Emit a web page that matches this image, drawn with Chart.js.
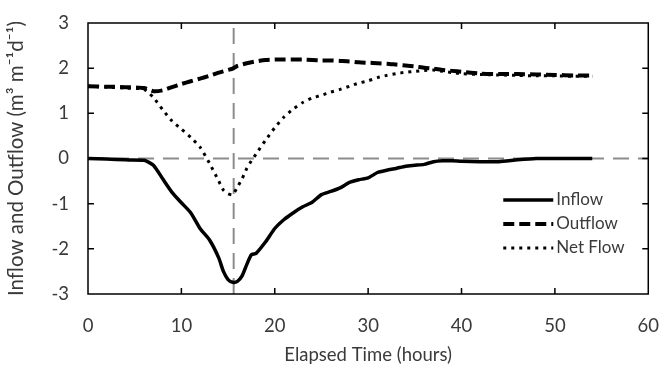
<!DOCTYPE html>
<html>
<head>
<meta charset="utf-8">
<script src="https://cdn.jsdelivr.net/npm/chart.js@4.4.1/dist/chart.umd.min.js"></script>
<style>
  html, body { margin: 0; padding: 0; background: #fff; }
  #wrap { width: 672px; height: 370px; position: relative; }
</style>
</head>
<body>
<div id="wrap"><canvas id="flow-chart"></canvas></div>
<script>
// Elapsed time (hours) shared by all three series
const hours = [0, 2, 4, 6, 7, 8, 9, 10, 11, 12, 13, 14, 14.5, 15, 15.5, 16, 16.5, 17, 17.5, 18,
    19, 20, 21, 22, 23, 24, 25, 26, 27, 28, 29, 30, 31, 32, 33, 34, 35, 36, 37, 38, 39, 40,
    42, 44, 46, 48, 50, 52, 54];

const inflow = [0, -0.01, -0.03, -0.04, -0.15, -0.45, -0.75, -0.98, -1.2, -1.55, -1.8, -2.2, -2.5, -2.68, -2.74, -2.72, -2.6, -2.35, -2.13, -2.1,
    -1.85, -1.55, -1.35, -1.2, -1.07, -0.97, -0.8, -0.73, -0.65, -0.53, -0.47, -0.43, -0.31, -0.26, -0.22, -0.17, -0.15, -0.13, -0.07, -0.05, -0.05, -0.06,
    -0.07, -0.07, -0.03, 0, 0, 0, 0];

const outflow = [1.6, 1.59, 1.58, 1.56, 1.49, 1.51, 1.58, 1.65, 1.71, 1.77, 1.83, 1.9, 1.93, 1.96, 1.99, 2.05, 2.08, 2.11, 2.13, 2.15,
    2.18, 2.19, 2.19, 2.19, 2.19, 2.18, 2.17, 2.17, 2.16, 2.15, 2.13, 2.12, 2.11, 2.1, 2.08, 2.06, 2.04, 2.01, 1.99, 1.96, 1.94, 1.92,
    1.88, 1.87, 1.87, 1.86, 1.85, 1.84, 1.84];

const netFlow = [1.6, 1.58, 1.56, 1.53, 1.35, 1.08, 0.83, 0.65, 0.47, 0.25, -0.1, -0.5, -0.7, -0.78, -0.8, -0.63, -0.45, -0.22, -0.05, 0.1,
    0.4, 0.68, 0.92, 1.1, 1.24, 1.34, 1.4, 1.47, 1.53, 1.6, 1.67, 1.72, 1.79, 1.84, 1.88, 1.91, 1.93, 1.95, 1.96, 1.93, 1.9, 1.88,
    1.86, 1.85, 1.84, 1.83, 1.83, 1.82, 1.82];

// Reference lines: time of peak inflow, and zero flow
const peakTime = 15.6;
const zeroFlow = 0;

const xTicks = [0, 10, 20, 30, 40, 50, 60];
const yTicks = [-3, -2, -1, 0, 1, 2, 3];

const FONT = 'Lato, "Open Sans", sans-serif';
const TEXT = '#3a3a3a';

const toPoints = (xs, ys) => xs.map((x, i) => ({ x: x, y: ys[i] }));

// Box around the plot with short inward ticks on all four sides
const frameTicks = {
    id: 'frameTicks',
    afterDatasetsDraw(chart) {
        const { ctx, chartArea: a, scales } = chart;
        const len = 6;
        ctx.save();
        ctx.strokeStyle = '#000';
        ctx.lineWidth = 1.5;
        ctx.strokeRect(a.left, a.top, a.right - a.left, a.bottom - a.top);
        ctx.beginPath();
        xTicks.forEach(v => {
            const px = scales.x.getPixelForValue(v);
            if (v === xTicks[0] || v === xTicks[xTicks.length - 1]) return;
            ctx.moveTo(px, a.bottom); ctx.lineTo(px, a.bottom - len);
            ctx.moveTo(px, a.top); ctx.lineTo(px, a.top + len);
        });
        yTicks.forEach(v => {
            const py = scales.y.getPixelForValue(v);
            if (v === yTicks[0] || v === yTicks[yTicks.length - 1]) return;
            ctx.moveTo(a.left, py); ctx.lineTo(a.left + len, py);
            ctx.moveTo(a.right, py); ctx.lineTo(a.right - len, py);
        });
        ctx.stroke();
        ctx.restore();
    }
};

// Legend in the lower right of the plot
const innerLegend = {
    id: 'innerLegend',
    afterDraw(chart) {
        const { ctx, chartArea: a } = chart;
        const x0 = a.right - 145;
        const x1 = x0 + 50;
        let y = 200;
        ctx.save();
        chart.data.datasets.slice(0, 3).forEach(ds => {
            ctx.beginPath();
            ctx.strokeStyle = ds.borderColor;
            ctx.lineWidth = ds.borderWidth;
            ctx.setLineDash(ds.borderDash || []);
            ctx.moveTo(x0, y);
            ctx.lineTo(x1, y);
            ctx.stroke();
            ctx.setLineDash([]);
            ctx.fillStyle = TEXT;
            ctx.font = '17px ' + FONT;
            ctx.textBaseline = 'middle';
            ctx.textAlign = 'left';
            ctx.fillText(ds.label, x1 + 3, y);
            y += 24;
        });
        ctx.restore();
    }
};

const ctx = document.getElementById('flow-chart').getContext('2d');
const flowChart = new Chart(ctx, {
    type: 'line',
    data: {
        datasets: [
            {
                label: 'Inflow',
                data: toPoints(hours, inflow),
                borderColor: '#000',
                borderWidth: 3.5,
                pointRadius: 0,
                tension: 0.2
            },
            {
                label: 'Outflow',
                data: toPoints(hours, outflow),
                borderColor: '#000',
                borderWidth: 4,
                borderDash: [11, 5],
                pointRadius: 0,
                tension: 0.2
            },
            {
                label: 'Net Flow',
                data: toPoints(hours, netFlow),
                borderColor: '#000',
                borderWidth: 3,
                borderDash: [3, 5],
                pointRadius: 0,
                tension: 0.2
            },
            {
                label: 'peak',
                data: [{ x: peakTime, y: yTicks[0] }, { x: peakTime, y: yTicks[yTicks.length - 1] }],
                borderColor: '#8c8c8c',
                borderWidth: 2,
                borderDash: [16, 9],
                pointRadius: 0
            },
            {
                label: 'zero',
                data: [{ x: xTicks[0], y: zeroFlow }, { x: xTicks[xTicks.length - 1], y: zeroFlow }],
                borderColor: '#8c8c8c',
                borderWidth: 2,
                borderDash: [16, 9],
                pointRadius: 0
            }
        ]
    },
    options: {
        responsive: true,
        maintainAspectRatio: false,
        animation: false,
        layout: { padding: { top: 23, right: 15, left: 0, bottom: 0 } },
        plugins: {
            legend: { display: false },
            tooltip: { enabled: false }
        },
        scales: {
            x: {
                type: 'linear',
                min: 0,
                max: 60,
                afterFit: scale => { scale.height = 76; },
                afterBuildTicks: scale => { scale.ticks = xTicks.map(v => ({ value: v })); },
                grid: { display: false },
                border: { display: false },
                ticks: {
                    padding: 13,
                    color: TEXT,
                    font: { family: FONT, size: 18.5 }
                },
                title: {
                    display: true,
                    text: 'Elapsed Time (hours)',
                    color: TEXT,
                    font: { family: FONT, size: 18.5 },
                    padding: { top: 0 }
                }
            },
            y: {
                type: 'linear',
                min: -3,
                max: 3,
                afterFit: scale => { scale.width = 88; },
                afterBuildTicks: scale => { scale.ticks = yTicks.map(v => ({ value: v })); },
                grid: {
                    display: true,
                    drawOnChartArea: false,
                    drawTicks: true,
                    tickLength: 14,
                    color: 'rgba(0,0,0,0)'
                },
                border: { display: false },
                ticks: {
                    padding: 5,
                    color: TEXT,
                    font: { family: FONT, size: 18.5 }
                },
                title: {
                    display: true,
                    text: 'Inflow and Outflow (m\u00b3 m\u207b\u00b9d\u207b\u00b9)',
                    color: TEXT,
                    font: { family: FONT, size: 20.5 },
                    padding: { top: 4, bottom: 0 }
                }
            }
        }
    },
    plugins: [frameTicks, innerLegend]
});
</script>
</body>
</html>
